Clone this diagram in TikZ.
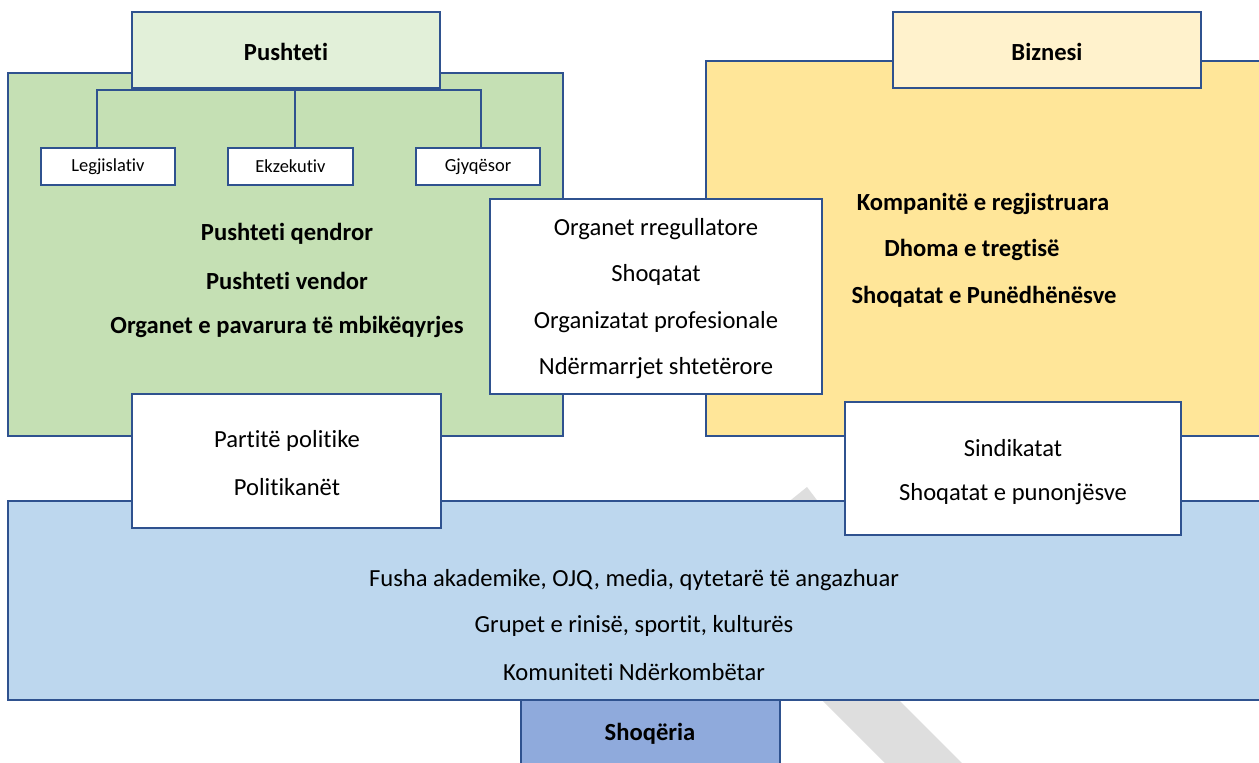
\documentclass[tikz,border=0pt]{standalone}
\usepackage{fontspec}
\setmainfont{Carlito}[Ligatures={NoCommon,NoContextual}]
\definecolor{edge}{HTML}{2F528F}
\definecolor{gfill}{HTML}{C5E0B4}
\definecolor{ghead}{HTML}{E2F0D9}
\definecolor{yfill}{HTML}{FFE699}
\definecolor{yhead}{HTML}{FFF2CC}
\definecolor{bfill}{HTML}{BDD7EE}
\definecolor{bhead}{HTML}{8FAADC}
\definecolor{wmark}{HTML}{DEDEDE}
\tikzset{
  box/.style={draw=edge, line width=0.9pt, rectangle, inner sep=0pt},
  smallbox/.style={box, fill=white, minimum height=0.74cm, font=\fontsize{10.5}{12}\selectfont},
  reg/.style={font=\fontsize{14}{16}\selectfont, inner sep=0pt, anchor=center, yshift=-0.04cm},
  bld/.style={font=\fontsize{14}{16}\selectfont\bfseries, inner sep=0pt, anchor=center, yshift=-0.04cm},
  tree/.style={draw=edge, line width=0.9pt},
}
\begin{document}
\begin{tikzpicture}[x=0.02cm,y=-0.02cm]
\useasboundingbox (0,0) rectangle (1259,762);
% watermark
\fill[wmark] (807,487) -- (776,512) -- (826,512) -- cycle;
\fill[wmark] (812,690) -- (889,690) -- (969,770) -- (892,770) -- cycle;

% government
\node[box, fill=gfill, minimum width=11.1cm, minimum height=7.26cm] (green) at (285.5,254.5) {};
\node[box, fill=ghead, minimum width=6.16cm, minimum height=1.52cm] (pusht) at (286,50) {};
\node[bld] (pushtT) at (286,50) {Pushteti};
\node[smallbox, minimum width=2.68cm] (leg) at (108,166.5) {Legjislativ};
\node[smallbox, minimum width=2.5cm] (ekz) at (290.5,166.5) {Ekzekutiv};
\node[smallbox, minimum width=2.48cm] (gjy) at (478,166.5) {Gjyqësor};
\coordinate (tL) at (97,90);
\coordinate (tM) at (295,90);
\coordinate (tR) at (481,90);
\draw[tree] (leg.north -| tL) -- (tL) -- (tR) -- (gjy.north -| tR);
\draw[tree] (pusht.south -| tM) -- (ekz.north -| tM);
\node[bld] (g1) at (287,232) {Pushteti qendror};
\node[bld] (g2) at (287,279) {Pushteti vendor};
\node[bld] (g3) at (287,325) {Organet e pavarura të mbikëqyrjes};

% business
\node[box, fill=yfill, minimum width=11.28cm, minimum height=7.5cm] (yellow) at (988,248.5) {};
\node[box, fill=yhead, minimum width=6.16cm, minimum height=1.52cm] (biz) at (1047,50) {};
\node[bld] (bizT) at (1047,50) {Biznesi};
\node[bld] (b1) at (983,202) {Kompanitë e regjistruara};
\node[bld] (b2) at (972,248) {Dhoma e tregtisë};
\node[bld] (b3) at (984,295) {Shoqatat e Punëdhënësve};

% centre box
\node[box, fill=white, minimum width=6.64cm, minimum height=3.9cm] (centre) at (656,296.5) {};
\node[reg] (c1) at (656,227) {Organet rregullatore};
\node[reg] (c2) at (656,273) {Shoqatat};
\node[reg] (c3) at (656,320) {Organizatat profesionale};
\node[reg] (c4) at (656,366) {Ndërmarrjet shtetërore};

% society
\node[box, fill=bhead, minimum width=5.18cm, minimum height=1.5cm] (shoq) at (650.5,737.5) {};
\node[box, fill=bfill, minimum width=25.24cm, minimum height=3.98cm] (blue) at (639,600.5) {};
\node[bld] (shoqT) at (650,732) {Shoqëria};
\node[reg] (s1) at (634,578) {Fusha akademike, OJQ, media, qytetarë të angazhuar};
\node[reg] (s2) at (634,624) {Grupet e rinisë, sportit, kulturës};
\node[reg] (s3) at (634,670) {Komuniteti Ndërkombëtar};

% political
\node[box, fill=white, minimum width=6.18cm, minimum height=2.68cm] (part) at (286.5,461) {};
\node[reg] (p1) at (287,439) {Partitë politike};
\node[reg] (p2) at (287,485) {Politikanët};

% unions
\node[box, fill=white, minimum width=6.72cm, minimum height=2.66cm] (sind) at (1013,468.5) {};
\node[reg] (u1) at (1013,446) {Sindikatat};
\node[reg] (u2) at (1013,492) {Shoqatat e punonjësve};
\end{tikzpicture}
\end{document}
